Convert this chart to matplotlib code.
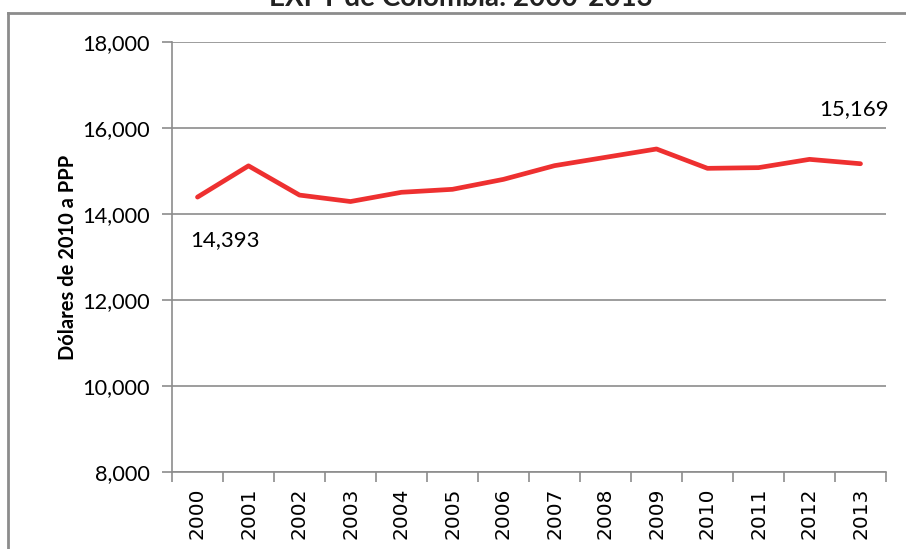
import matplotlib
matplotlib.use('Agg')
import matplotlib.pyplot as plt
from matplotlib.lines import Line2D
from matplotlib.ticker import FuncFormatter

# Data
years = ['2000', '2001', '2002', '2003', '2004', '2005', '2006',
         '2007', '2008', '2009', '2010', '2011', '2012', '2013']
values = [14393, 15120, 14440, 14290, 14505, 14574, 14806,
          15124, 15318, 15512, 15062, 15078, 15271, 15169]

title = 'EXPT de Colombia: 2000-2013'
ylabel = 'Dólares de 2010 a PPP'

plt.rcParams['font.family'] = ['Lato', 'DejaVu Sans']
GRAY = '#8c8c8c'

fig = plt.figure(figsize=(9.06, 5.49), dpi=100)
ax = fig.add_axes([172 / 906, 1 - 472 / 549, 714 / 906, 430 / 549])

x = list(range(len(years)))
ax.plot(x, values, color='#ee3030', linewidth=3.4, solid_capstyle='round')

ax.set_xlim(-0.5, len(years) - 0.5)
ax.set_ylim(8000, 18000)
ax.set_yticks(range(8000, 18001, 2000))
ax.yaxis.set_major_formatter(FuncFormatter(lambda v, p: f'{int(v):,}'))
ax.grid(axis='y', color=GRAY, linewidth=1.2)
ax.set_axisbelow(True)

for s in ['top', 'right']:
    ax.spines[s].set_visible(False)
for s in ['left', 'bottom']:
    ax.spines[s].set_color(GRAY)
    ax.spines[s].set_linewidth(1.2)

ax.tick_params(axis='y', length=7, width=1.2, color=GRAY, labelsize=15.7, pad=9)
ax.set_xticks(x)
ax.set_xticklabels(years, rotation=90, fontsize=14.5, family='DejaVu Sans')
ax.tick_params(axis='x', which='major', length=0, pad=11)
ax.set_xticks([i - 0.5 for i in range(len(years) + 1)], minor=True)
ax.tick_params(axis='x', which='minor', length=7, width=1.2, color=GRAY)

ax.set_ylabel(ylabel, fontsize=14.5, fontweight='bold', labelpad=3)

# Data labels on first and last point
ax.annotate(f'{values[0]:,}', (0, values[0]), xytext=(-5, -38),
            textcoords='offset points', fontsize=16, ha='left', va='bottom')
ax.annotate(f'{values[-1]:,}', (len(years) - 1, values[-1]), xytext=(-30, 32),
            textcoords='offset points', fontsize=16, ha='left', va='bottom')

# Chart frame and clipped title
fig.add_artist(Line2D([8 / 906, 8 / 906], [0, 1 - 13 / 549], color=GRAY, linewidth=2,
                      transform=fig.transFigure))
fig.add_artist(Line2D([8 / 906, 1], [1 - 13 / 549, 1 - 13 / 549], color=GRAY, linewidth=2,
                      transform=fig.transFigure))
fig.text(461 / 906, 1 - 6 / 549, title, ha='center', va='baseline', fontsize=20,
         fontweight='bold', color='#222222')

fig.savefig('out.png', dpi=100, facecolor='white')
